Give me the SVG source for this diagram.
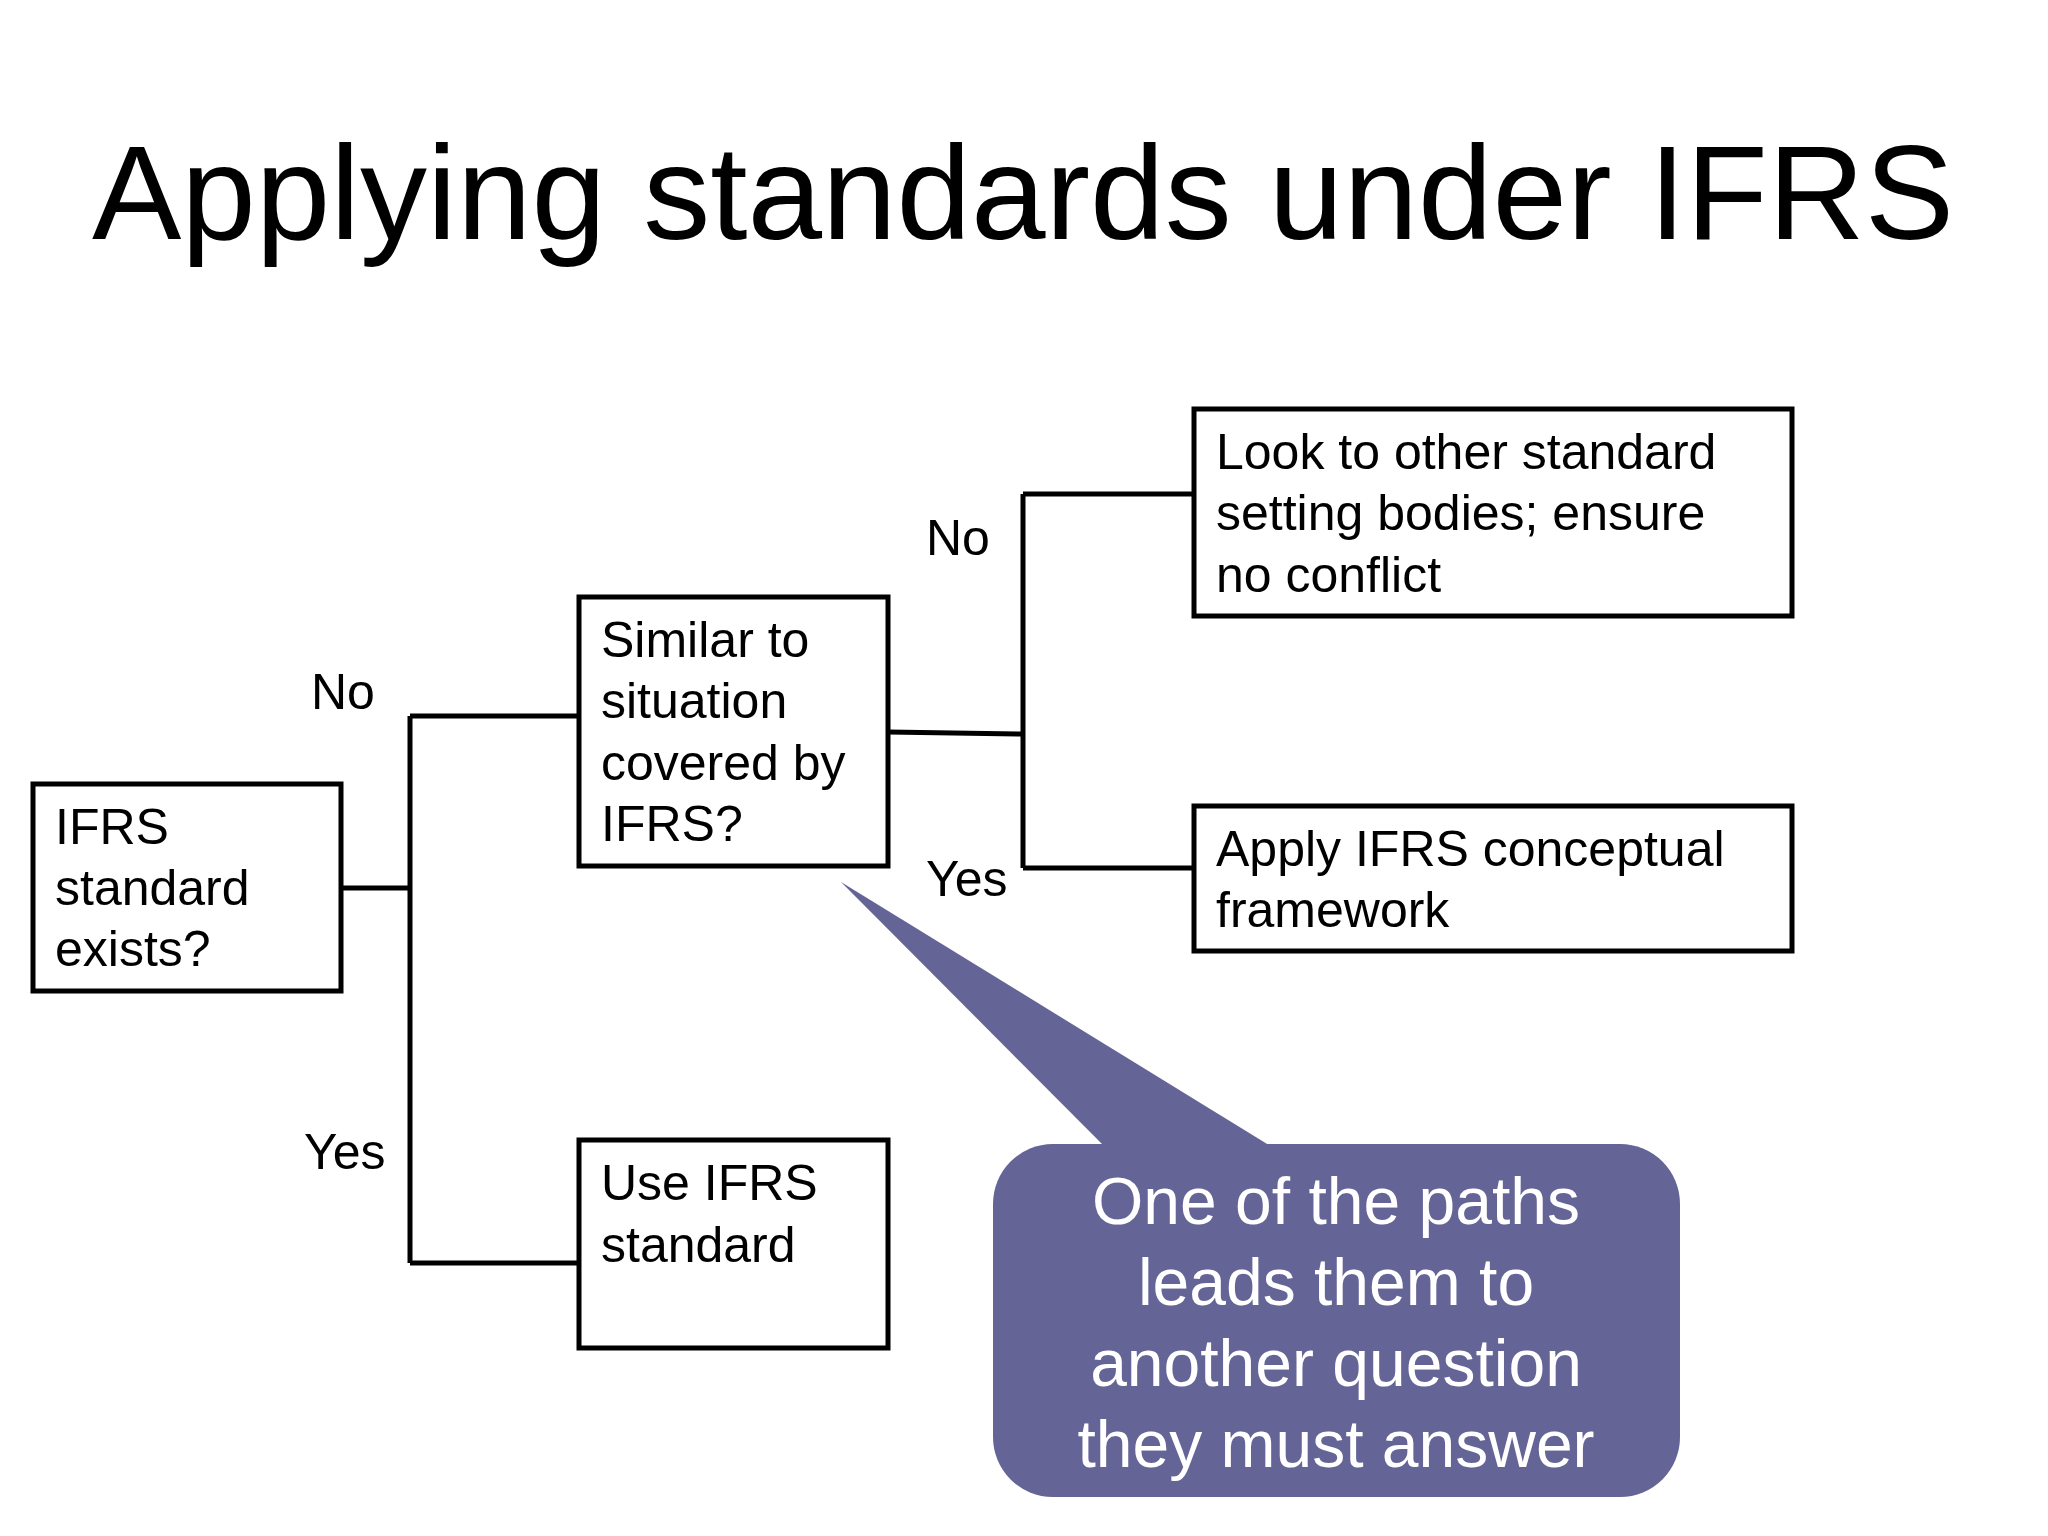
<svg xmlns="http://www.w3.org/2000/svg" width="2048" height="1536" viewBox="0 0 2048 1536">
<style>
.b{fill:#fff;stroke:#000;stroke-width:5}
.t{font-family:"Liberation Sans",Arial,sans-serif;font-size:50px;fill:#000}
.c{font-family:"Liberation Sans",Arial,sans-serif;font-size:66px;fill:#fff;text-anchor:middle}
.l{stroke:#000;stroke-width:5;fill:none}
</style>
<rect width="2048" height="1536" fill="#fff"/>
<text x="1023" y="239" text-anchor="middle" font-family="Liberation Sans,Arial,sans-serif" font-size="134">Applying standards under IFRS</text>
<g id="connectors">
<path class="l" d="M341 888H410M410 716V1263M410 716H579M410 1263H579"/>
<path class="l" d="M888 732L1023 734M1023 494V868M1023 494H1194M1023 868H1194"/>
<text class="t" x="311" y="709">No</text>
<text class="t" x="304" y="1169">Yes</text>
<text class="t" x="926" y="555">No</text>
<text class="t" x="926" y="896">Yes</text>
</g>
<g id="n1"><rect class="b" x="33" y="784" width="308" height="207"/>
<text class="t" x="55" y="844">IFRS</text><text class="t" x="55" y="905">standard</text><text class="t" x="55" y="966">exists?</text></g>
<g id="n2"><rect class="b" x="579" y="597" width="309" height="269"/>
<text class="t" x="601" y="657">Similar to</text><text class="t" x="601" y="718">situation</text><text class="t" x="601" y="780">covered by</text><text class="t" x="601" y="841">IFRS?</text></g>
<g id="n3"><rect class="b" x="579" y="1140" width="309" height="208"/>
<text class="t" x="601" y="1200">Use IFRS</text><text class="t" x="601" y="1262">standard</text></g>
<g id="n4"><rect class="b" x="1194" y="409" width="598" height="207"/>
<text class="t" x="1216" y="469">Look to other standard</text><text class="t" x="1216" y="530">setting bodies; ensure</text><text class="t" x="1216" y="592">no conflict</text></g>
<g id="n5"><rect class="b" x="1194" y="806" width="598" height="145"/>
<text class="t" x="1216" y="866">Apply IFRS conceptual</text><text class="t" x="1216" y="927">framework</text></g>
<g id="callout">
<rect x="993" y="1144" width="687" height="353" rx="60" fill="#656496"/>
<polygon points="841,882 1108,1150 1277,1150" fill="#656496"/>
<text class="c" x="1336" y="1224">One of the paths</text>
<text class="c" x="1336" y="1305">leads them to</text>
<text class="c" x="1336" y="1386">another question</text>
<text class="c" x="1336" y="1467">they must answer</text>
</g>
</svg>
